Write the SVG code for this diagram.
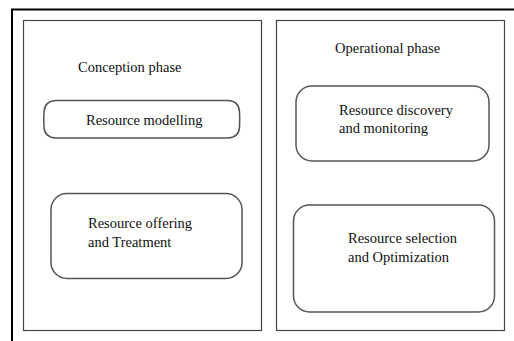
<svg xmlns="http://www.w3.org/2000/svg" width="514" height="341" viewBox="0 0 514 341">
<style>
.frame{fill:none;stroke:#000;stroke-width:2}
.panel{fill:none;stroke:#444;stroke-width:1.2}
.box{fill:none;stroke:#555;stroke-width:1.5}
.t{font-family:'Liberation Serif','Times New Roman','DejaVu Serif',serif;font-size:14.5px;fill:#111}
</style>
<rect width="514" height="341" fill="#fff"/>
<g id="frame">
<path class="frame" d="M12,341 V9.5 H514"/>
</g>
<g id="conception">
<rect class="panel" x="23.5" y="20.5" width="238" height="310"/>
<text class="t" x="78" y="72" font-family="Liberation Serif, serif">Conception phase</text>
</g>
<g id="operational">
<rect class="panel" x="276.5" y="20.5" width="228" height="310" stroke="#222"/>
<text class="t" x="335" y="53" font-family="Liberation Serif, serif">Operational phase</text>
</g>
<g id="modelling">
<path class="box" d="M56,100.5 H228 Q239,101 239.5,112 Q240,119 239.5,127 Q239,137.5 228,138 H56 Q44.5,137.5 44,127 Q43.5,119 44,112 Q44.5,101 56,100.5 Z"/>
<text class="t" x="86" y="125" font-family="Liberation Serif, serif">Resource modelling</text>
</g>
<g id="offering">
<rect class="box" x="51" y="193.5" width="191" height="85" rx="16" ry="16"/>
<text class="t" x="88" y="228" font-family="Liberation Serif, serif">Resource offering</text>
<text class="t" x="88" y="247" font-family="Liberation Serif, serif">and Treatment</text>
</g>
<g id="discovery">
<rect class="box" x="296" y="86" width="193" height="75" rx="16" ry="16"/>
<text class="t" x="339" y="115" font-family="Liberation Serif, serif">Resource discovery</text>
<text class="t" x="339" y="133" font-family="Liberation Serif, serif">and monitoring</text>
</g>
<g id="selection">
<rect class="box" x="293.5" y="205" width="201" height="107" rx="16" ry="16"/>
<text class="t" x="348" y="243" font-family="Liberation Serif, serif">Resource selection</text>
<text class="t" x="348" y="262" font-family="Liberation Serif, serif">and Optimization</text>
</g>
<g id="connectors"></g>
</svg>
